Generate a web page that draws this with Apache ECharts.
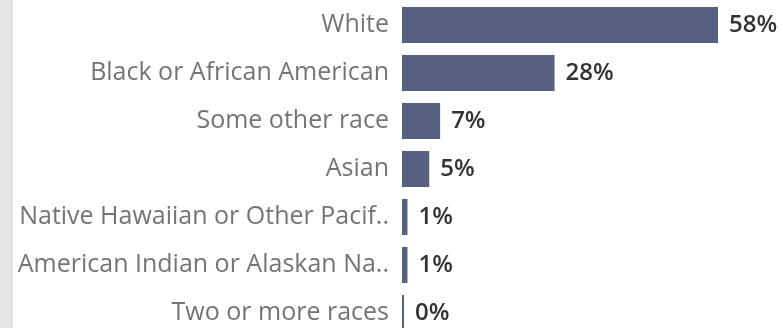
<!DOCTYPE html>
<html>
<head>
<meta charset="utf-8">
<script src="https://cdn.jsdelivr.net/npm/echarts@6/dist/echarts.min.js"></script>
<style>
  html, body { margin: 0; padding: 0; background: #ffffff; }
  #chart { width: 782px; height: 328px; }
</style>
</head>
<body>
<div id="chart"></div>
<script>
// Race breakdown, share of population (%)
const categories = [
  'White',
  'Black or African American',
  'Some other race',
  'Asian',
  'Native Hawaiian or Other Pacif..',
  'American Indian or Alaskan Na..',
  'Two or more races'
];
const shares = [58, 28, 7, 5, 1, 1, 0];

const chart = echarts.init(document.getElementById('chart'), null, { renderer: 'canvas' });

chart.setOption({
  animation: false,
  backgroundColor: '#ffffff',
  graphic: [{
    type: 'rect',
    left: 0, top: 0,
    shape: { width: 13, height: 328 },
    style: { fill: '#e6e6e6' },
    silent: true
  }],
  // the last row runs past the bottom edge of the canvas
  grid: {
    left: 402, width: 316, top: 1, height: 336,
    containLabel: false,
    outerBoundsMode: 'none'
  },
  xAxis: {
    type: 'value', min: 0, max: 58,
    show: false
  },
  yAxis: {
    type: 'category',
    inverse: true,
    data: categories,
    axisLine: { show: false },
    axisTick: { show: false },
    splitLine: { show: false },
    axisLabel: {
      margin: 13,
      color: '#747474',
      fontFamily: 'Open Sans',
      fontSize: 25
    }
  },
  series: [{
    type: 'bar',
    data: shares,
    barWidth: 36,
    barMinHeight: 2,
    itemStyle: { color: '#55617f' },
    label: {
      show: true,
      position: 'right',
      distance: 11,
      formatter: p => p.value + '%',
      color: '#333333',
      fontFamily: 'Open Sans',
      fontWeight: 600,
      fontSize: 24
    }
  }]
});
</script>
</body>
</html>
